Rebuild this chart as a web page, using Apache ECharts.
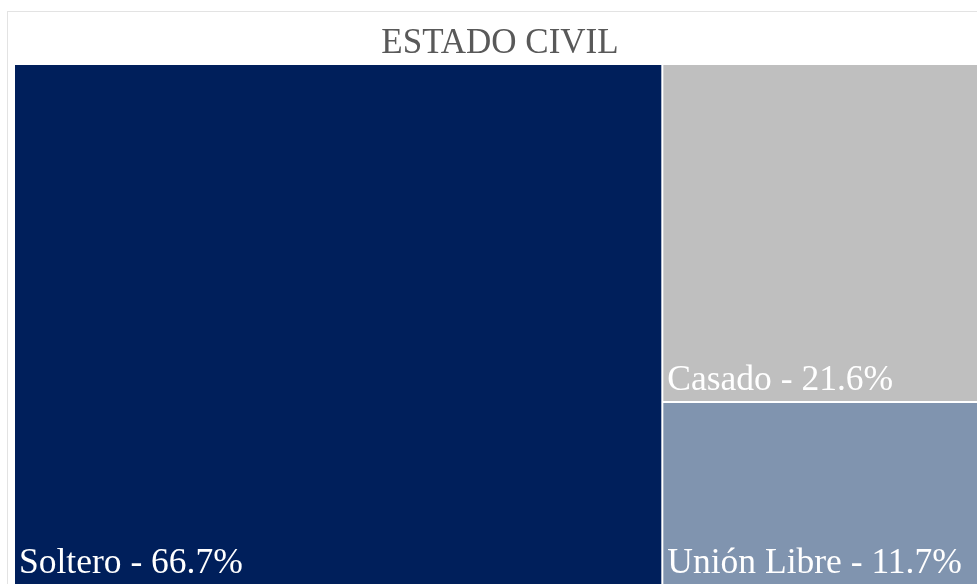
<!DOCTYPE html>
<html>
<head>
<meta charset="utf-8">
<script src="https://cdn.jsdelivr.net/npm/echarts@6/dist/echarts.min.js"></script>
<style>
  html, body { margin: 0; padding: 0; background: #ffffff; overflow: hidden; }
  body { width: 977px; height: 584px; position: relative; }
  #frame {
    position: absolute; left: 7px; top: 11px;
    width: 990px; height: 600px;
    border: 1px solid #e3e3e3; box-sizing: border-box;
  }
  #chart { position: absolute; left: 0; top: 0; width: 990px; height: 600px; }
</style>
</head>
<body>
<div id="frame"><div id="chart"></div></div>
<script>
// Estado civil: categorías, porcentajes y colores de cada bloque
const categorias = ['Soltero', 'Casado', 'Unión Libre'];
const porcentajes = [66.7, 21.6, 11.7];
const colores = ['#001F5B', '#BFBFBF', '#8094AF'];
const titulo = 'ESTADO CIVIL';

const datos = categorias.map((nombre, i) => ({
  name: nombre,
  value: porcentajes[i],
  itemStyle: { color: colores[i] }
}));

const chart = echarts.init(document.getElementById('chart'), null, { renderer: 'canvas' });
chart.setOption({
  animation: false,
  title: {
    text: titulo,
    left: 487,
    top: 9,
    textAlign: 'center',
    textStyle: {
      fontFamily: 'Liberation Serif',
      fontSize: 35,
      fontWeight: 'normal',
      color: '#595959'
    }
  },
  series: [{
    type: 'treemap',
    left: 7,
    top: 53,
    width: 970,
    height: 519,
    roam: false,
    nodeClick: false,
    breadcrumb: { show: false },
    sort: 'desc',
    itemStyle: { borderWidth: 0, gapWidth: 2, borderColor: '#ffffff' },
    levels: [{ itemStyle: { borderWidth: 0, gapWidth: 2, borderColor: '#ffffff' } }],
    label: {
      show: true,
      position: 'insideBottomLeft',
      distance: 0,
      offset: [-1, 3],
      formatter: p => p.name + ' - ' + p.value.toFixed(1) + '%',
      fontFamily: 'Liberation Serif',
      fontSize: 35.5,
      color: '#ffffff'
    },
    data: datos
  }]
});
</script>
</body>
</html>
